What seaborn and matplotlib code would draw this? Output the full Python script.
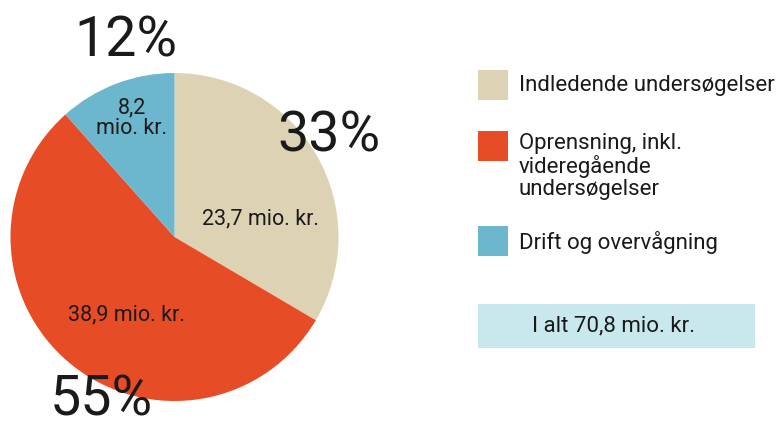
import seaborn as sns
import matplotlib.pyplot as plt
from matplotlib.patches import Rectangle

# data
categories = ['Indledende undersøgelser',
              'Oprensning, inkl.\nvideregående\nundersøgelser',
              'Drift og overvågning']
values = [23.7, 38.9, 8.2]
value_labels = ['23,7 mio. kr.', '38,9 mio. kr.', '8,2\nmio. kr.']
pct_labels = ['33%', '55%', '12%']
total_label = 'I alt 70,8 mio. kr.'

sns.set_theme(style='white')
plt.rcParams['font.family'] = ['Roboto', 'DejaVu Sans']
colors = sns.color_palette(['#DDD3B4', '#E64D27', '#6CB7CD'])
ink = '#1a1a1a'

W, H = 776, 423
fig = plt.figure(figsize=(W / 100, H / 100), dpi=100)

# pie, centre and radius in pixels
cx, cy, r = 174.5, 237, 164
ax = fig.add_axes([(cx - r) / W, (H - cy - r) / H, 2 * r / W, 2 * r / H])
ax.pie(values, colors=colors, startangle=90, counterclock=False,
       wedgeprops=dict(linewidth=0))
ax.set_xlim(-1, 1)
ax.set_ylim(-1, 1)
ax.set_aspect('auto')
ax.axis('off')

def d(px, py):
    return (px - cx) / r, (cy - py) / r

# value labels inside slices
for (px, py), lab in zip([(261, 219), (126, 315), (132, 118)], value_labels):
    ax.text(*d(px, py), lab, ha='center', va='center', fontsize=15.5,
            color=ink, linespacing=0.95)

# big percentages
for (px, py), lab in zip([(329, 136), (101, 400), (126, 41)], pct_labels):
    ax.text(*d(px, py), lab, ha='center', va='center', fontsize=40,
            color=ink)

# legend
def fx(px):
    return px / W

def fy(py):
    return 1 - py / H

sq_tops = [70, 131, 226]
for top, col, lab in zip(sq_tops, colors, categories):
    fig.patches.append(Rectangle((fx(478), fy(top + 30)), 30 / W, 30 / H,
                                 transform=fig.transFigure, color=col,
                                 linewidth=0))
    if '\n' in lab:
        fig.text(fx(519), fy(top + 2), lab, ha='left', va='top', fontsize=16,
                 color=ink, linespacing=1.05)
    else:
        fig.text(fx(519), fy(top + 16), lab, ha='left', va='center',
                 fontsize=16, color=ink)

# total box
fig.patches.append(Rectangle((fx(478), fy(348)), 277 / W, 44 / H,
                             transform=fig.transFigure, color='#C9E8ED',
                             linewidth=0))
fig.text(fx(614), fy(326), total_label, ha='center', va='center',
         fontsize=16, color=ink)

fig.savefig('out.png', dpi=100)
